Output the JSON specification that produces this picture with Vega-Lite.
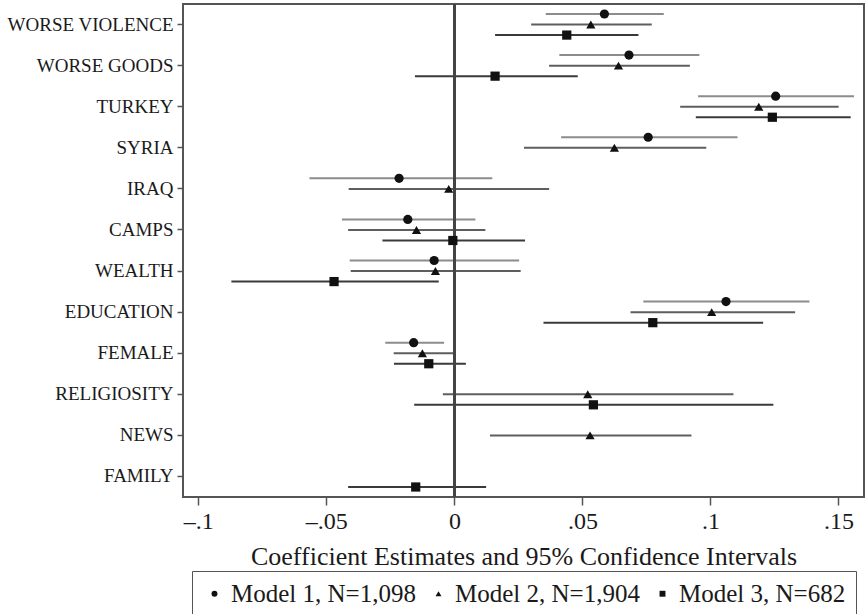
{
  "$schema": "https://vega.github.io/schema/vega-lite/v6.json",
  "width": 681,
  "height": 493,
  "autosize": {"type": "none"},
  "padding": {"left": 183, "top": 4, "right": 3, "bottom": 117},
  "background": "white",
  "config": {
    "font": "Liberation Serif",
    "view": {"stroke": "#555", "strokeWidth": 2},
    "axis": {"grid": false, "domain": false, "labelFont": "Liberation Serif", "titleFont": "Liberation Serif", "labelColor": "#1a1a1a", "titleColor": "#1a1a1a", "tickColor": "#555", "tickWidth": 1.5},
    "legend": {"labelFont": "Liberation Serif"}
  },
  "data": {"values": [
    {"var": "WORSE VIOLENCE", "model": "Model 1", "est": 0.0586, "lo": 0.0357, "hi": 0.0818},
    {"var": "WORSE VIOLENCE", "model": "Model 2", "est": 0.0533, "lo": 0.0300, "hi": 0.0771},
    {"var": "WORSE VIOLENCE", "model": "Model 3", "est": 0.0439, "lo": 0.0159, "hi": 0.0719},
    {"var": "WORSE GOODS", "model": "Model 1", "est": 0.0682, "lo": 0.0410, "hi": 0.0957},
    {"var": "WORSE GOODS", "model": "Model 2", "est": 0.0641, "lo": 0.0370, "hi": 0.0920},
    {"var": "WORSE GOODS", "model": "Model 3", "est": 0.0159, "lo": -0.0154, "hi": 0.0482},
    {"var": "TURKEY", "model": "Model 1", "est": 0.1255, "lo": 0.0952, "hi": 0.1561},
    {"var": "TURKEY", "model": "Model 2", "est": 0.1189, "lo": 0.0882, "hi": 0.1501},
    {"var": "TURKEY", "model": "Model 3", "est": 0.1242, "lo": 0.0943, "hi": 0.1548},
    {"var": "SYRIA", "model": "Model 1", "est": 0.0757, "lo": 0.0417, "hi": 0.1106},
    {"var": "SYRIA", "model": "Model 2", "est": 0.0625, "lo": 0.0272, "hi": 0.0984},
    {"var": "IRAQ", "model": "Model 1", "est": -0.0216, "lo": -0.0566, "hi": 0.0148},
    {"var": "IRAQ", "model": "Model 2", "est": -0.0022, "lo": -0.0413, "hi": 0.0370},
    {"var": "CAMPS", "model": "Model 1", "est": -0.0182, "lo": -0.0439, "hi": 0.0082},
    {"var": "CAMPS", "model": "Model 2", "est": -0.0148, "lo": -0.0415, "hi": 0.0121},
    {"var": "CAMPS", "model": "Model 3", "est": -0.0006, "lo": -0.0281, "hi": 0.0276},
    {"var": "WEALTH", "model": "Model 1", "est": -0.0079, "lo": -0.0409, "hi": 0.0253},
    {"var": "WEALTH", "model": "Model 2", "est": -0.0074, "lo": -0.0405, "hi": 0.0259},
    {"var": "WEALTH", "model": "Model 3", "est": -0.0470, "lo": -0.0871, "hi": -0.0061},
    {"var": "EDUCATION", "model": "Model 1", "est": 0.1061, "lo": 0.0738, "hi": 0.1387},
    {"var": "EDUCATION", "model": "Model 2", "est": 0.1005, "lo": 0.0688, "hi": 0.1331},
    {"var": "EDUCATION", "model": "Model 3", "est": 0.0775, "lo": 0.0348, "hi": 0.1206},
    {"var": "FEMALE", "model": "Model 1", "est": -0.0159, "lo": -0.0270, "hi": -0.0040},
    {"var": "FEMALE", "model": "Model 2", "est": -0.0125, "lo": -0.0237, "hi": 0.0000},
    {"var": "FEMALE", "model": "Model 3", "est": -0.0100, "lo": -0.0236, "hi": 0.0045},
    {"var": "RELIGIOSITY", "model": "Model 2", "est": 0.0521, "lo": -0.0045, "hi": 0.1090},
    {"var": "RELIGIOSITY", "model": "Model 3", "est": 0.0543, "lo": -0.0157, "hi": 0.1246},
    {"var": "NEWS", "model": "Model 2", "est": 0.0530, "lo": 0.0139, "hi": 0.0926},
    {"var": "FAMILY", "model": "Model 3", "est": -0.0151, "lo": -0.0415, "hi": 0.0124}
  ]},
  "resolve": {"legend": {"shape": "independent", "color": "independent"}},
  "layer": [
    {
      "mark": {"type": "rule", "strokeWidth": 2},
      "encoding": {
        "y": {
          "field": "var", "type": "nominal",
          "sort": ["WORSE VIOLENCE", "WORSE GOODS", "TURKEY", "SYRIA", "IRAQ", "CAMPS", "WEALTH", "EDUCATION", "FEMALE", "RELIGIOSITY", "NEWS", "FAMILY"],
          "scale": {"paddingInner": 0, "paddingOuter": 0},
          "axis": {"title": null, "labelFontSize": 19, "tickSize": 6, "labelPadding": 4, "labelLimit": 0}
        },
        "yOffset": {
          "field": "model", "type": "nominal",
          "scale": {"domain": ["Model 1", "Model 2", "Model 3"], "paddingInner": 0, "paddingOuter": 0.45}
        },
        "x": {
          "field": "lo", "type": "quantitative",
          "scale": {"domain": [-0.106, 0.16], "nice": false, "zero": false},
          "axis": {
            "title": "Coefficient Estimates and 95% Confidence Intervals",
            "titleFontSize": 26, "titleFontWeight": "normal", "titlePadding": 10,
            "labelFontSize": 24, "labelPadding": 4, "tickSize": 8,
            "values": [-0.1, -0.05, 0, 0.05, 0.1, 0.15],
            "labelExpr": "datum.value == 0 ? '0' : (datum.value < 0 ? '–' : '') + substring(format(abs(datum.value), '.2~f'), 1)"
          }
        },
        "x2": {"field": "hi"},
        "color": {
          "field": "model", "type": "nominal",
          "scale": {"domain": ["Model 1", "Model 2", "Model 3"], "range": ["#8c8c8c", "#5e5e5e", "#3a3a3a"]},
          "legend": null
        }
      }
    },
    {
      "mark": {"type": "rule", "color": "#444", "strokeWidth": 1.6},
      "encoding": {"x": {"datum": 0}}
    },
    {
      "mark": {"type": "point", "filled": true, "opacity": 1, "color": "#111", "size": 85},
      "encoding": {
        "y": {"field": "var", "type": "nominal", "sort": ["WORSE VIOLENCE", "WORSE GOODS", "TURKEY", "SYRIA", "IRAQ", "CAMPS", "WEALTH", "EDUCATION", "FEMALE", "RELIGIOSITY", "NEWS", "FAMILY"]},
        "yOffset": {"field": "model", "type": "nominal"},
        "x": {"field": "est", "type": "quantitative"},
        "shape": {
          "field": "model", "type": "nominal",
          "scale": {"domain": ["Model 1", "Model 2", "Model 3"], "range": ["circle", "triangle-up", "square"]},
          "legend": {
            "title": null, "orient": "none", "legendX": 9, "legendY": 567,
            "direction": "horizontal",
            "labelExpr": "datum.label == 'Model 1' ? 'Model 1, N=1,098' : datum.label == 'Model 2' ? 'Model 2, N=1,904' : 'Model 3, N=682'",
            "labelFontSize": 25, "labelColor": "#1a1a1a", "labelLimit": 0,
            "symbolSize": 35, "symbolFillColor": "#111", "symbolStrokeWidth": 0,
            "labelOffset": 4, "columnPadding": 10, "padding": 10,
            "strokeColor": "#555", "fillColor": "white"
          }
        }
      }
    }
  ]
}
